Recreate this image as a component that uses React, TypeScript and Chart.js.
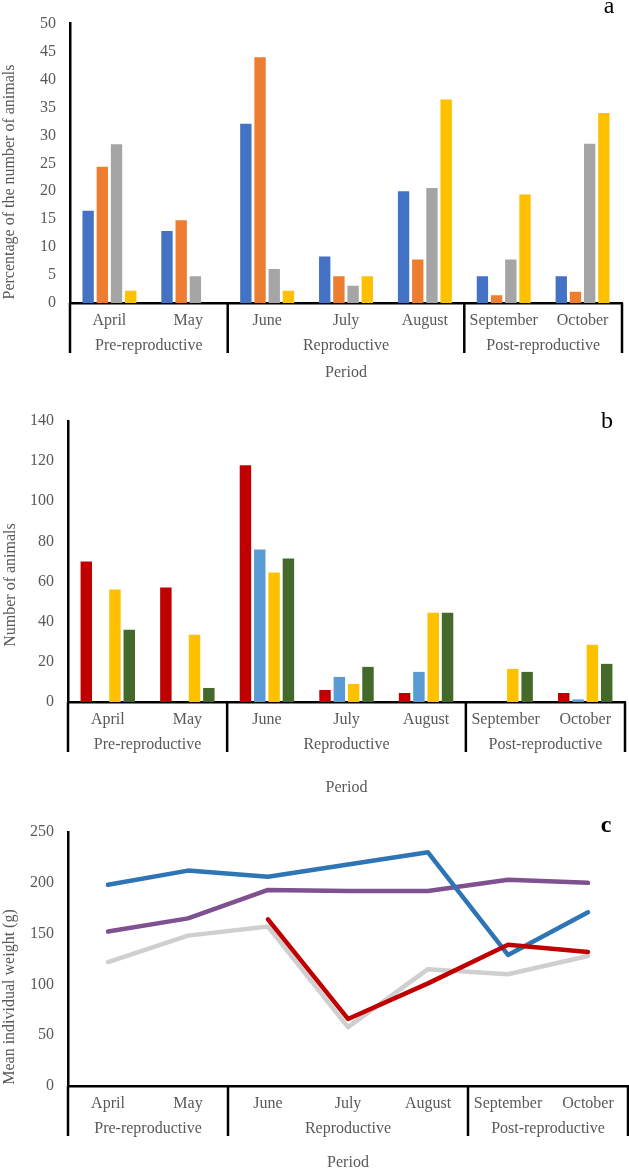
import React, { useEffect, useRef } from 'react';
import { Chart, registerables } from 'chart.js';
Chart.register(...registerables);

const months = ['April', 'May', 'June', 'July', 'August', 'September', 'October'];
const groupLabels = ['Pre-reproductive', 'Reproductive', 'Post-reproductive'];
const groupSpans = [2, 3, 2];

// Panel a: percentage of the number of animals
const aBlue = [16.5, 12.9, 32.1, 8.3, 20.0, 4.8, 4.8];
const aOrange = [24.4, 14.8, 44.0, 4.8, 7.8, 1.4, 2.0];
const aGray = [28.4, 4.8, 6.1, 3.1, 20.6, 7.8, 28.5];
const aYellow = [2.2, null, 2.2, 4.8, 36.4, 19.4, 34.0];

// Panel b: number of animals
const bRed = [70, 57, 118, 6, 4.5, null, 4.5];
const bBlue = [null, null, 76, 12.5, 15, null, 1.3];
const bYellow = [56, 33.5, 64.5, 9, 44.5, 16.5, 28.5];
const bGreen = [36, 7, 71.5, 17.5, 44.5, 15, 19];

// Panel c: mean individual weight (g)
const cBlue = [198, 212, 206, 218, 230, 129, 171];
const cPurple = [152, 165, 193, 192, 192, 203, 200];
const cGray = [122, 148, 157, 58, 115, 110, 128];
const cRed = [null, null, 164, 66, 101, 139, 132];

const SERIF = '"Liberation Serif", "Times New Roman", serif';
const TEXT = '#595959';

type FrameOpts = {
  letter: string; letterX: number; letterY: number; letterBold?: boolean;
  yTitle: string; yTitleX: number; yTitleY: number;
  periodOffset: number;
};

function framePlugin(p: FrameOpts) {
  return {
    id: 'frame' + p.letter,
    afterDraw(chart: any) {
      const { ctx, chartArea: area } = chart;
      const xs = chart.scales.x;
      const step = xs.getPixelForValue(1) - xs.getPixelForValue(0);
      ctx.save();
      ctx.font = `16px ${SERIF}`;
      ctx.fillStyle = TEXT;
      ctx.textAlign = 'center';
      ctx.textBaseline = 'middle';
      months.forEach((m, i) => ctx.fillText(m, xs.getPixelForValue(i), area.bottom + 18));
      const bounds: number[] = [xs.getPixelForValue(0) - step / 2];
      let start = 0;
      groupLabels.forEach((g, k) => {
        const end = start + groupSpans[k] - 1;
        const l = xs.getPixelForValue(start) - step / 2;
        const r = xs.getPixelForValue(end) + step / 2;
        ctx.fillText(g, (l + r) / 2, area.bottom + 43);
        bounds.push(r);
        start = end + 1;
      });
      ctx.fillText('Period', (area.left + area.right) / 2, area.bottom + p.periodOffset);
      ctx.strokeStyle = '#000';
      ctx.lineWidth = 2.5;
      bounds.forEach((x) => {
        ctx.beginPath();
        ctx.moveTo(x, area.bottom);
        ctx.lineTo(x, area.bottom + 50);
        ctx.stroke();
      });
      ctx.save();
      ctx.translate(p.yTitleX, p.yTitleY);
      ctx.rotate(-Math.PI / 2);
      ctx.fillText(p.yTitle, 0, 0);
      ctx.restore();
      ctx.fillStyle = '#000';
      ctx.font = `${p.letterBold ? 'bold ' : ''}24px ${SERIF}`;
      ctx.textBaseline = 'alphabetic';
      ctx.fillText(p.letter, p.letterX, p.letterY);
      ctx.restore();
    },
  };
}

type BaseOpts = { top: number; right: number; xHeight: number; yWidth: number; max: number; step: number };

function baseOptions(o: BaseOpts): any {
  return {
    responsive: false,
    animation: false,
    layout: { padding: { top: o.top, right: o.right, left: 0, bottom: 0 } },
    plugins: { legend: { display: false }, tooltip: { enabled: false }, title: { display: false } },
    scales: {
      x: {
        type: 'category',
        offset: true,
        grid: { display: false, drawTicks: false },
        border: { display: true, color: '#000', width: 2.5 },
        ticks: { display: false },
        afterFit: (s: any) => { s.height = o.xHeight; },
      },
      y: {
        min: 0,
        max: o.max,
        ticks: { stepSize: o.step, color: TEXT, font: { family: SERIF, size: 16 }, padding: 14 },
        grid: { display: false, drawTicks: false },
        border: { display: true, color: '#000', width: 2.5 },
        afterFit: (s: any) => { s.width = o.yWidth; },
      },
    },
  };
}

const barDs = (data: (number | null)[], color: string) => ({
  data,
  backgroundColor: color,
  borderWidth: 0,
  categoryPercentage: 0.72,
  barPercentage: 0.8,
});

const lineDs = (data: (number | null)[], color: string, order: number) => ({
  data,
  borderColor: color,
  backgroundColor: color,
  borderWidth: 4.5,
  pointRadius: 0,
  tension: 0,
  order,
  borderCapStyle: 'round',
  borderJoinStyle: 'round',
  spanGaps: false,
});

function useChart(ref: React.RefObject<HTMLCanvasElement | null>, make: () => any) {
  useEffect(() => {
    if (!ref.current) return;
    const chart = new Chart(ref.current, make());
    return () => chart.destroy();
  }, []);
}

export default function App() {
  const aRef = useRef<HTMLCanvasElement | null>(null);
  const bRef = useRef<HTMLCanvasElement | null>(null);
  const cRef = useRef<HTMLCanvasElement | null>(null);

  useChart(aRef, () => ({
    type: 'bar',
    data: {
      labels: months,
      datasets: [barDs(aBlue, '#4472C4'), barDs(aOrange, '#ED7D31'), barDs(aGray, '#A5A5A5'), barDs(aYellow, '#FFC000')],
    },
    options: baseOptions({ top: 9, right: 7, xHeight: 92, yWidth: 70, max: 50, step: 5 }),
    plugins: [framePlugin({ letter: 'a', letterX: 609, letterY: 13, yTitle: 'Percentage of the number of animals', yTitleX: 10, yTitleY: 182, periodOffset: 70 })],
  }));

  useChart(bRef, () => ({
    type: 'bar',
    data: {
      labels: months,
      datasets: [barDs(bRed, '#C00000'), barDs(bBlue, '#5B9BD5'), barDs(bYellow, '#FFC000'), barDs(bGreen, '#44692B')],
    },
    options: baseOptions({ top: 26, right: 4, xHeight: 103, yWidth: 68, max: 140, step: 20 }),
    plugins: [framePlugin({ letter: 'b', letterX: 607, letterY: 33, yTitle: 'Number of animals', yTitleX: 11, yTitleY: 190, periodOffset: 86 })],
  }));

  useChart(cRef, () => ({
    type: 'line',
    data: {
      labels: months,
      datasets: [
        lineDs(cBlue, '#2E75B6', 1),
        lineDs(cPurple, '#7F5190', 2),
        lineDs(cGray, '#CFCFCF', 3),
        lineDs(cRed, '#C00000', 0),
      ],
    },
    options: baseOptions({ top: 27, right: 1, xHeight: 84, yWidth: 68, max: 250, step: 50 }),
    plugins: [framePlugin({ letter: 'c', letterX: 606, letterY: 27, letterBold: true, yTitle: 'Mean individual weight (g)', yTitleX: 10, yTitleY: 192, periodOffset: 77 })],
  }));

  return (
    <div style={{ position: 'absolute', left: 0, top: 0, width: 629, height: 1170, background: '#fff' }}>
      <canvas ref={aRef} width={629} height={395} style={{ position: 'absolute', left: 0, top: 0, width: 629, height: 395 }} />
      <canvas ref={bRef} width={629} height={410} style={{ position: 'absolute', left: 0, top: 395, width: 629, height: 410 }} />
      <canvas ref={cRef} width={629} height={365} style={{ position: 'absolute', left: 0, top: 805, width: 629, height: 365 }} />
    </div>
  );
}
